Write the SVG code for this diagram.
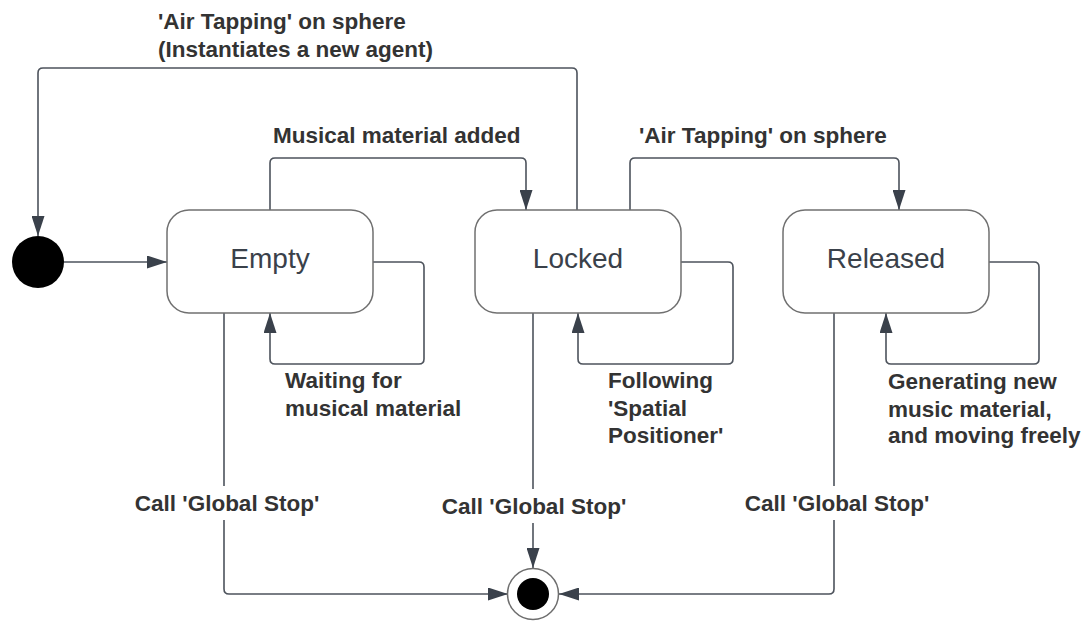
<svg xmlns="http://www.w3.org/2000/svg" width="1084" height="622" viewBox="0 0 1084 622">
  <style>
    .state { fill: #ffffff; stroke: #707070; stroke-width: 1.5; }
    .stxt { font-family: "Liberation Sans", Arial, sans-serif; font-size: 28px; fill: #3a414a; text-anchor: middle; }
    .lbl { font-family: "Liberation Sans", Arial, sans-serif; font-size: 22.5px; font-weight: bold; fill: #333333; }
    .conn { fill: none; stroke: #4d535c; stroke-width: 1.6; }
  </style>
  <defs>
    <marker id="arr" markerUnits="userSpaceOnUse" markerWidth="20" markerHeight="13" refX="20" refY="6.5" orient="auto">
      <path d="M0,0 L20,6.5 L0,13 Z" fill="#3a414b"/>
    </marker>
  </defs>
  <rect width="1084" height="622" fill="#ffffff"/>

  <g id="connectors">
    <path class="conn" d="M64,262 H167" marker-end="url(#arr)"/>
    <path class="conn" d="M373,262 H419 Q424,262 424,267 V359 Q424,364 419,364 H275 Q270,364 270,359 V313" marker-end="url(#arr)"/>
    <path class="conn" d="M270,210 V163 Q270,158 275,158 H521 Q526,158 526,163 V210" marker-end="url(#arr)"/>
    <path class="conn" d="M681,262 H728 Q733,262 733,267 V359 Q733,364 728,364 H583 Q578,364 578,359 V313" marker-end="url(#arr)"/>
    <path class="conn" d="M630,210 V163 Q630,158 635,158 H894 Q899,158 899,163 V210" marker-end="url(#arr)"/>
    <path class="conn" d="M577,210 V73 Q577,68 572,68 H43 Q38,68 38,73 V236" marker-end="url(#arr)"/>
    <path class="conn" d="M989,262 H1034 Q1039,262 1039,267 V359 Q1039,364 1034,364 H891 Q886,364 886,359 V313" marker-end="url(#arr)"/>
    <path class="conn" d="M224,313 V589 Q224,594 229,594 H508" marker-end="url(#arr)"/>
    <path class="conn" d="M533,313 V568" marker-end="url(#arr)"/>
    <path class="conn" d="M834,313 V589 Q834,594 829,594 H559" marker-end="url(#arr)"/>
  </g>

  <g id="labels">
    <text class="lbl" x="158" y="29">'Air Tapping' on sphere</text>
    <text class="lbl" x="158" y="57">(Instantiates a new agent)</text>
    <text class="lbl" x="273" y="143">Musical material added</text>
    <text class="lbl" x="639" y="143">'Air Tapping' on sphere</text>
    <text class="lbl" x="285" y="388">Waiting for</text>
    <text class="lbl" x="285" y="416">musical material</text>
    <text class="lbl" x="608" y="388">Following</text>
    <text class="lbl" x="608" y="416">'Spatial</text>
    <text class="lbl" x="608" y="443">Positioner'</text>
    <text class="lbl" x="888" y="389">Generating new</text>
    <text class="lbl" x="888" y="417">music material,</text>
    <text class="lbl" x="888" y="443">and moving freely</text>
    <rect x="128" y="486" width="198" height="34" fill="#ffffff"/>
    <text class="lbl" x="227" y="511" text-anchor="middle">Call 'Global Stop'</text>
    <rect x="436" y="489" width="196" height="34" fill="#ffffff"/>
    <text class="lbl" x="534" y="514" text-anchor="middle">Call 'Global Stop'</text>
    <rect x="739" y="486" width="196" height="34" fill="#ffffff"/>
    <text class="lbl" x="837" y="511" text-anchor="middle">Call 'Global Stop'</text>
  </g>

  <g id="initial">
    <circle cx="38" cy="262" r="26" fill="#000000"/>
  </g>

  <g id="empty">
    <rect class="state" x="167" y="210" width="206" height="103" rx="22"/>
    <text class="stxt" x="270" y="268">Empty</text>
  </g>

  <g id="locked">
    <rect class="state" x="475" y="210" width="206" height="103" rx="22"/>
    <text class="stxt" x="578" y="268">Locked</text>
  </g>

  <g id="released">
    <rect class="state" x="783" y="210" width="206" height="103" rx="22"/>
    <text class="stxt" x="886" y="268">Released</text>
  </g>

  <g id="final">
    <circle cx="533" cy="594" r="25.5" fill="#ffffff" stroke="#6e6e6e" stroke-width="1.5"/>
    <circle cx="533" cy="594" r="16" fill="#000000"/>
  </g>
</svg>
